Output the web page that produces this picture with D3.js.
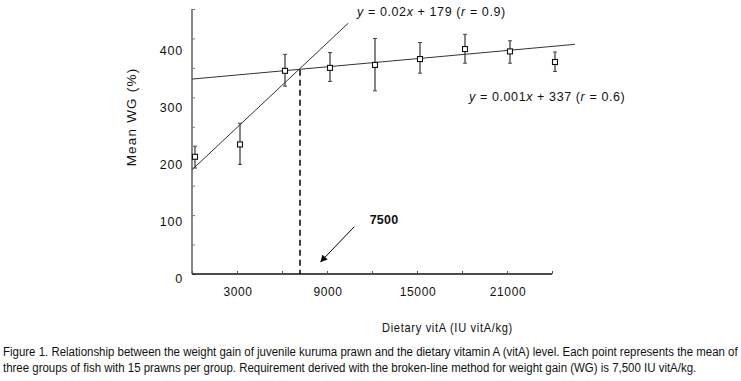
<!DOCTYPE html>
<html><head><meta charset="utf-8">
<script src="https://cdn.jsdelivr.net/npm/d3@7/dist/d3.min.js"></script>
<style>
body{margin:0;background:#fff;}
svg{display:block;}
text{font-family:"Liberation Sans",Arial,sans-serif;}
</style></head>
<body><svg id="c" width="741" height="381"></svg>
<script>
// ---- data ----
const dietVitA = [200, 3200, 6200, 9200, 12200, 15200, 18200, 21200, 24200];
const meanWG   = [199, 220, 345, 350, 355, 365, 382, 378, 360];
const upperWG  = [217, 256, 373, 376, 400, 393, 407, 396, 377];
const lowerWG  = [180, 186, 319, 327, 311, 341, 358, 358, 344];
const steepLineX = [0, 10420];
const steepLineY = [177, 426];
const flatLineX  = [0, 25530];
const flatLineY  = [331, 390];
const breakPointX = 7200;
const breakPointY = 347;
const xTickValues = [0, 3000, 6000, 9000, 12000, 15000, 18000, 21000, 24000];
const xTickLabels = ["3000", "9000", "15000", "21000"];
const xTickLabelValues = [3000, 9000, 15000, 21000];
const yTickValues = [0, 50, 100, 150, 200, 250, 300, 350, 400, 450];
const yTickLabels = ["0", "100", "200", "300", "400"];
const yTickLabelValues = [0, 100, 200, 300, 400];

const svg = d3.select("#c");
const x = d3.scaleLinear().domain([0, 24000]).range([192, 552]);
const y = d3.scaleLinear().domain([0, 450]).range([274, 9]);
// tick-label placement in the original is slightly spread relative to ticks
const yLab = d3.scaleLinear().domain([0, 400]).range([277.5, 50]);

// horizontally squeeze a text to a target width (or given scale)
function fit(sel, w, ax, ay, sForce) {
  const cur = sel.node().getComputedTextLength();
  const s = sForce || (w / cur);
  sel.attr("x", 0).attr("y", 0).attr("transform", `translate(${ax},${ay}) scale(${s},1)`);
  return s;
}

// y axis
const yAxis = d3.axisRight(y).tickValues(yTickValues).tickSize(3).tickFormat("");
const gy = svg.append("g").attr("transform", "translate(192,0)").call(yAxis);
gy.select(".domain").attr("stroke", "#888").attr("stroke-width", 2).attr("d", `M0,${y(450)}V${y(0)}`);
gy.selectAll(".tick line").attr("stroke", "#777");

// x axis
const xAxis = d3.axisTop(x).tickValues(xTickValues).tickSize(3).tickFormat("");
const gx = svg.append("g").attr("transform", "translate(0,274)").call(xAxis);
gx.select(".domain").attr("stroke", "#111").attr("stroke-width", 1.5).attr("d", `M${x(0)},0H${x(24000)}`);
gx.selectAll(".tick line").attr("stroke", "#555");

// tick labels
svg.append("g").selectAll("text").data(xTickLabelValues).join("text")
  .attr("x", d => x(d) + 1).attr("y", 296)
  .attr("text-anchor", "middle").attr("font-size", 12).attr("letter-spacing", 0.6)
  .attr("fill", "#111").text((d, i) => xTickLabels[i]);
svg.append("g").selectAll("text").data(yTickLabelValues).join("text")
  .attr("x", 183).attr("y", d => yLab(d) + 5)
  .attr("text-anchor", "end").attr("font-size", 12.5).attr("letter-spacing", 0.8)
  .attr("fill", "#111").text((d, i) => yTickLabels[i]);

// axis titles
const xt = svg.append("text").attr("font-size", 13).attr("letter-spacing", 0.8)
  .attr("fill", "#111").text("Dietary vitA (IU vitA/kg)");
fit(xt, 131, 382, 332);
svg.append("text").attr("text-anchor", "middle").attr("font-size", 13.5).attr("letter-spacing", 1.2)
  .attr("fill", "#111").text("Mean WG (%)")
  .attr("transform", "translate(136,117) rotate(-90)");

// regression lines
const line = d3.line().x(d => x(d[0])).y(d => y(d[1]));
svg.append("path").attr("d", line(steepLineX.map((v, i) => [v, steepLineY[i]])))
  .attr("stroke", "#333").attr("stroke-width", 1).attr("fill", "none");
svg.append("path").attr("d", line(flatLineX.map((v, i) => [v, flatLineY[i]])))
  .attr("stroke", "#333").attr("stroke-width", 1).attr("fill", "none");

// dashed break-point line
svg.append("line").attr("x1", x(breakPointX)).attr("x2", x(breakPointX))
  .attr("y1", y(breakPointY)).attr("y2", y(0))
  .attr("stroke", "#000").attr("stroke-width", 1.5).attr("stroke-dasharray", "6,4");

// error bars
const eb = svg.append("g");
dietVitA.forEach((d, i) => {
  const cx = x(d);
  eb.append("line").attr("x1", cx).attr("x2", cx).attr("y1", y(upperWG[i])).attr("y2", y(lowerWG[i]))
    .attr("stroke", "#333").attr("stroke-width", 1.2);
  [upperWG[i], lowerWG[i]].forEach(v => eb.append("line")
    .attr("x1", cx - 2).attr("x2", cx + 2).attr("y1", y(v)).attr("y2", y(v))
    .attr("stroke", "#444").attr("stroke-width", 1));
});
// points
svg.append("g").selectAll("rect").data(dietVitA).join("rect")
  .attr("x", d => x(d) - 2.5).attr("y", (d, i) => y(meanWG[i]) - 2.5)
  .attr("width", 5).attr("height", 5).attr("fill", "#fff").attr("stroke", "#111").attr("stroke-width", 1.1);

// equations
function eq(xp, yp, parts) {
  const t = svg.append("text").attr("x", xp).attr("y", yp)
    .attr("font-size", 12.5).attr("fill", "#111").attr("letter-spacing", 0.6);
  parts.forEach(p => t.append("tspan").attr("font-style", p[1] ? "italic" : "normal").text(p[0]));
}
eq(357, 16, [["y", 1], [" = 0.02", 0], ["x", 1], [" + 179  (", 0], ["r", 1], [" = 0.9)", 0]]);
eq(469, 101, [["y", 1], [" = 0.001", 0], ["x", 1], [" + 337  (", 0], ["r", 1], [" = 0.6)", 0]]);

// arrow + label
svg.append("defs").append("marker").attr("id", "ah").attr("viewBox", "0 0 10 10")
  .attr("refX", 9).attr("refY", 5).attr("markerWidth", 9).attr("markerHeight", 7)
  .attr("markerUnits", "userSpaceOnUse").attr("orient", "auto")
  .append("path").attr("d", "M0,0L10,5L0,10Z").attr("fill", "#000");
svg.append("line").attr("x1", x(10820)).attr("y1", y(80.3)).attr("x2", x(8580)).attr("y2", y(20.9))
  .attr("stroke", "#000").attr("stroke-width", 1).attr("marker-end", "url(#ah)");
svg.append("text").attr("x", 384).attr("y", 224).attr("text-anchor", "middle")
  .attr("font-weight", "bold")
  .attr("font-size", 12.5).attr("letter-spacing", 0.2).attr("fill", "#111").text("7500");

// caption
const cap = [
  "Figure 1. Relationship between the weight gain of juvenile kuruma prawn and the dietary vitamin A (vitA) level. Each point represents the mean of",
  "three groups of fish with 15 prawns per group. Requirement derived with the broken-line method for weight gain (WG) is 7,500 IU vitA/kg."
];
const t1 = svg.append("text").attr("font-size", 12.5).attr("fill", "#111").text(cap[0]);
const sCap = fit(t1, 735, 3, 356);
const t2 = svg.append("text").attr("font-size", 12.5).attr("fill", "#111").text(cap[1]);
fit(t2, 0, 3, 372, sCap);
</script></body></html>
